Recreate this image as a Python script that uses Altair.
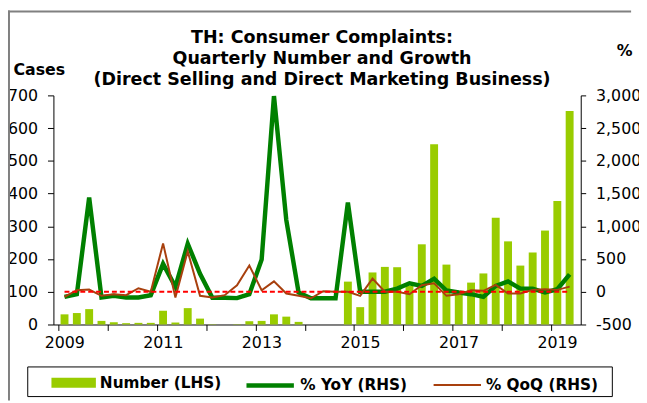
import altair as alt
import pandas as pd

# ---------------- data ----------------
years = list(range(2009, 2020))
quarters = [f"{y}Q{q}" for y in years for q in (1, 2, 3, 4)][:42]

number = [31, 35, 47, 11, 7, 4, 5, 5,
          42, 6, 50, 18, 1, 0, 1, 10,
          11, 31, 24, 8, 0, 0, 0, 131,
          53, 159, 176, 175, 118, 245, 551, 183,
          95, 128, 156, 326, 254, 180, 220, 287,
          377, 652]

yoy = [-77, -37, 1438, -87, -62, -87, -87, -52,
       426, 74, 734, 275, -92, -92, -97, -37,
       492, 2990, 1096, -12, -100, -100, -100, 1362,
       0, 0, 0, 48, 129, 89, 200, 19,
       -12, -37, -77, 89, 159, 48, 48, -12,
       39, 265]

qoq = [-77, 24, 34, -62, -37, -52, 54, 0,
       739, -87, 618, -62, -87, -52, 99, 401,
       24, 159, -27, -62, -100, 9, 0, 0,
       -62, 200, 0, 0, -37, 99, 129, -62,
       -37, 24, 14, 104, -27, -27, 29, 39,
       29, 79]

S_NUM, S_YOY, S_QOQ = "Number (LHS)", "% YoY (RHS)", "% QoQ (RHS)"
C_NUM, C_YOY, C_QOQ = "#99cc00", "#008000", "#a8400e"

left_ticks = list(range(0, 701, 100))
right_ticks = list(range(-500, 3001, 500))

# quarter mid-point position on a year axis
pos = [int(q[:4]) + (int(q[-1]) - 0.5) / 4 for q in quarters]

bars_df = pd.DataFrame({"t": pos, "value": number, "bseries": S_NUM})
lines_df = pd.concat([
    pd.DataFrame({"t": pos, "value": yoy, "series": S_YOY}),
    pd.DataFrame({"t": pos, "value": qoq, "series": S_QOQ}),
])

FONT = "DejaVu Sans"

legend_common = dict(title=None, orient="none", direction="horizontal",
                     labelFont=FONT, labelFontSize=15.5, labelFontWeight="bold",
                     labelColor="black", columnPadding=22, labelOffset=4, padding=0)

bar_legend = alt.Legend(legendX=-2, legendY=268.5, symbolSize=2025,
                        symbolType="M-1,-0.22H1V0.22H-1Z", symbolStrokeWidth=0,
                        **legend_common)
line_legend = alt.Legend(legendX=193, legendY=267, symbolSize=2304,
                         symbolType="stroke", **legend_common)

x_enc = alt.X(
    "t:Q",
    scale=alt.Scale(domain=[2009, 2019.5], nice=False, zero=False),
    axis=alt.Axis(values=years, labelExpr="datum.value % 2 == 1 ? '' + datum.value : ''",
                  labelOffset=6, labelFlush=False, labelOverlap=False, title=None,
                  grid=False, tickSize=6, labelPadding=4),
)

bars = alt.Chart(bars_df).mark_bar(size=8).encode(
    x=x_enc,
    y=alt.Y("value:Q", scale=alt.Scale(domain=[0, 700], nice=False),
            axis=alt.Axis(orient="left", values=left_ticks, format="d", title="Cases",
                          titleAngle=0, titleX=-41, titleY=-21, titleAlign="left",
                          titleBaseline="alphabetic", titleFont=FONT, titleFontSize=16,
                          titleFontWeight="bold", titleColor="black", labelOverlap=False,
                          grid=False, tickSize=6, labelPadding=10)),
    fill=alt.Fill("bseries:N", scale=alt.Scale(domain=[S_NUM], range=[C_NUM]),
                  legend=bar_legend),
)

right_scale = alt.Scale(domain=[-500, 3000], nice=False)
right_axis = alt.Axis(orient="right", values=right_ticks,
                      labelExpr="replace(format(datum.value, ','), '\u2212', '-')",
                      labelOverlap=False, labelBound=False, labelFlush=False,
                      title="%", titleAngle=0, titleX=36, titleY=-40, titleAlign="left",
                      titleBaseline="alphabetic", titleFont=FONT, titleFontSize=16,
                      titleFontWeight="bold", titleColor="black",
                      grid=False, tickSize=5, labelPadding=10)
y_right = alt.Y("value:Q", scale=right_scale, axis=right_axis)

stroke_enc = alt.Stroke("series:N", scale=alt.Scale(domain=[S_YOY, S_QOQ], range=[C_YOY, C_QOQ]),
                        legend=line_legend)
width_enc = alt.StrokeWidth("series:N", scale=alt.Scale(domain=[S_YOY, S_QOQ], range=[4.5, 2]),
                            legend=line_legend)

yoy_line = alt.Chart(lines_df).transform_filter(alt.datum.series == S_YOY).mark_line().encode(
    x=x_enc, y=y_right, stroke=stroke_enc, strokeWidth=width_enc)
qoq_line = alt.Chart(lines_df).transform_filter(alt.datum.series == S_QOQ).mark_line().encode(
    x=x_enc, y=y_right, stroke=stroke_enc, strokeWidth=width_enc)
zero_rule = alt.Chart(alt.Data(values=[{}])).mark_rule(
    color="#ff0000", strokeDash=[5, 3], strokeWidth=2).encode(
    x=alt.datum(pos[0]), x2=alt.datum(pos[-1]),
    y=alt.YDatum(0, type="quantitative", scale=right_scale, axis=right_axis))

right_layer = alt.layer(yoy_line, qoq_line, zero_rule)

legend_box = alt.Chart(alt.Data(values=[{}])).mark_rect(
    fill="transparent", stroke="black", strokeWidth=1).encode(
    x=alt.value(-26), x2=alt.value(566), y=alt.value(275), y2=alt.value(305))

# light grey outer frame (top and left edges)
frame_top = alt.Chart(alt.Data(values=[{}])).mark_rule(
    color="#808080", strokeWidth=2).encode(
    x=alt.value(-46), x2=alt.value(585), y=alt.value(-85))
frame_left = alt.Chart(alt.Data(values=[{}])).mark_rule(
    color="#808080", strokeWidth=2).encode(
    x=alt.value(-45), y=alt.value(-86), y2=alt.value(309))

chart = alt.layer(bars, right_layer, legend_box, frame_top, frame_left).resolve_scale(
    y="independent"
).properties(
    width=534, height=232,
    autosize=alt.AutoSizeParams(type="none"),
    padding={"left": 46, "top": 86, "right": 59, "bottom": 77},
    title=alt.TitleParams(
        text=["TH: Consumer Complaints:", "Quarterly Number and Growth",
              "(Direct Selling and Direct Marketing Business)"],
        anchor="middle", font=FONT, fontSize=17.7, fontWeight="bold",
        lineHeight=21, color="black", offset=0, dy=80, dx=5),
).configure_view(stroke=None).configure_axis(
    domainColor="black", tickColor="black", labelColor="black",
    labelFont=FONT, labelFontSize=16, domainWidth=1, tickWidth=1, labelOverlap=False,
)

chart.save("out.html", embed_options={"renderer": "svg", "actions": False})
